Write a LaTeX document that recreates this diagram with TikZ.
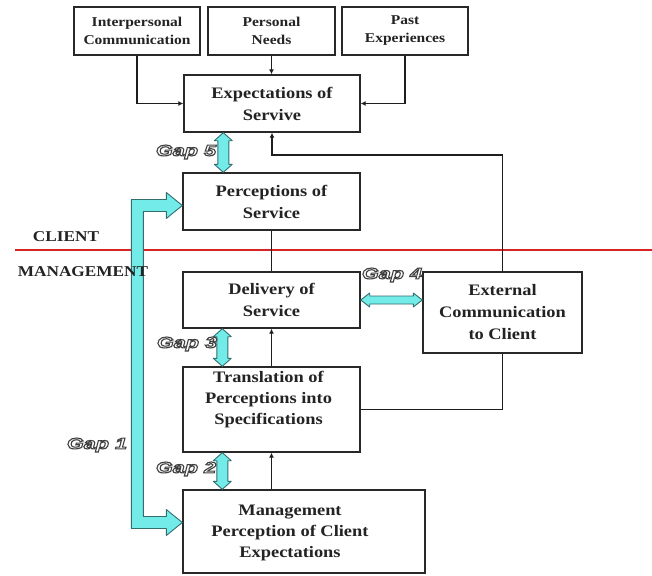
\documentclass[tikz,border=0pt]{standalone}
\usepackage{fontspec}
\setmainfont{Liberation Serif}[FakeStretch=1.15]
\newfontfamily\gapfont{Liberation Sans}[FakeStretch=1.4]
\usetikzlibrary{arrows.meta,calc}
\definecolor{boxline}{RGB}{40,40,40}
\definecolor{connline}{RGB}{30,30,30}
\definecolor{txt}{RGB}{35,35,35}
\definecolor{gapfill}{RGB}{115,235,232}
\definecolor{gapline}{RGB}{50,110,110}
\definecolor{redline}{RGB}{215,35,35}
\tikzset{
  box/.style={draw=boxline, line width=1.4pt, align=center, text=txt,
    font=\bfseries\fontsize{16}{22}\selectfont, inner sep=0pt},
  topbox/.style={box, line width=2pt, font=\bfseries\fontsize{13.5}{18}\selectfont},
  boxtext/.style={align=center, text=txt, font=\bfseries\fontsize{16}{21}\selectfont, inner sep=0pt},
  sidetext/.style={text=txt, font=\bfseries\fontsize{15}{18}\selectfont, inner sep=0pt},
  conn/.style={draw=connline, line width=1.8pt, -{Latex[length=5pt,width=5pt]}},
  plainconn/.style={draw=connline, line width=1.8pt},
  gap/.style={fill=gapfill, draw=gapline, line width=0.9pt, line join=round},
  gaplabel/.style={inner sep=0pt, font=\gapfont\bfseries\itshape\fontsize{15.5}{15.5}\selectfont},
  vgap/.style={gap, to path={-- ($(\tikztostart)+(9,8)$) -- ($(\tikztostart)+(5.5,8)$)
     -- ($(\tikztotarget)+(5.5,-8)$) -- ($(\tikztotarget)+(9,-8)$) -- (\tikztotarget)
     -- ($(\tikztotarget)+(-9,-8)$) -- ($(\tikztotarget)+(-5.5,-8)$)
     -- ($(\tikztostart)+(-5.5,8)$) -- ($(\tikztostart)+(-9,8)$) -- cycle}},
  hgap/.style={gap, to path={-- ($(\tikztostart)+(9,-7)$) -- ($(\tikztostart)+(9,-4)$)
     -- ($(\tikztotarget)+(-9,-4)$) -- ($(\tikztotarget)+(-9,-7)$) -- (\tikztotarget)
     -- ($(\tikztotarget)+(-9,7)$) -- ($(\tikztotarget)+(-9,4)$)
     -- ($(\tikztostart)+(9,4)$) -- ($(\tikztostart)+(9,7)$) -- cycle}}
}
\newcommand{\gaptext}[1]{\special{pdf:literal direct 0.25 G 1.1 w 1 Tr}#1\special{pdf:literal direct 0 Tr 0 G}}
\begin{document}
\begin{tikzpicture}[x=1pt,y=-1pt]
\useasboundingbox[fill=white] (0,0) rectangle (652,575);

% red separator
\draw[redline, line width=1.5pt] (15,250) -- (652,250);

% top boxes
\node[topbox, minimum width=126pt, minimum height=48pt] (ip) at (137,31) {Interpersonal\\Communication};
\node[topbox, minimum width=127pt, minimum height=48pt] (pn) at (271.5,31) {Personal\\Needs};
\node[topbox, minimum width=126pt, minimum height=48pt] (pe) at (405,31) {Past\\Experiences};

% main boxes
\node[box, minimum width=176pt, minimum height=57pt] (exp) at (272,103.5) {Expectations of\\Servive};
\node[box, minimum width=177pt, minimum height=57pt] (per) at (271.5,201.5) {Perceptions of\\Service};
\node[box, minimum width=177pt, minimum height=56pt] (del) at (271.5,300) {Delivery of\\Service};
\node[box, minimum width=159pt, minimum height=81pt] (ext) at (502.5,312.5) {External\\Communication\\to Client};
\node[box, minimum width=177pt, minimum height=85pt] (tra) at (271.5,409.5) {};
\node[boxtext] at ($(tra.center)+(-3,-10)$) {Translation of\\Perceptions into\\Specifications};
\node[box, minimum width=242pt, minimum height=83pt] (man) at (304,531.5) {};
\node[boxtext] at ($(man.center)+(-14,1)$) {Management\\Perception of Client\\Expectations};

% connectors
\draw[conn] (ip.south) |- (exp.west);
\draw[conn] (pe.south) |- (exp.east);
\draw[conn] (pn.south) -- (pn.south |- exp.north);
\coordinate (k) at (0,155);
\draw[conn] (ext.north) -- (ext.north |- k) -| (exp.south);
\draw[plainconn] (per.south) -- (del.north);
\draw[conn] (tra.north) -- (del.south);
\draw[conn] (tra.south |- man.north) -- (tra.south);
\draw[plainconn] (ext.south) |- (tra.east);

% gap arrows
\coordinate (g5a) at ($(exp.south west)+(40,0)$);
\coordinate (g5b) at (g5a |- per.north);
\path[vgap] (g5a) to (g5b);
\coordinate (g3a) at ($(del.south west)+(40,0)$);
\coordinate (g3b) at (g3a |- tra.north);
\path[vgap] (g3a) to (g3b);
\coordinate (g2a) at ($(tra.south west)+(40,0)$);
\coordinate (g2b) at (g2a |- man.north);
\path[vgap] (g2a) to (g2b);
\coordinate (g4a) at (del.east);
\coordinate (g4b) at (del.east -| ext.west);
\path[hgap] (g4a) to (g4b);

% gap 1 bracket arrow
\coordinate (t1) at ($(per.west)+(0,4)$);
\coordinate (t2) at ($(man.west)+(0,-9)$);
\path[gap] (t1) -- ($(t1)+(-16,-13)$) -- ($(t1)+(-16,-6)$) -- ($(t1)+(-51,-6)$)
  -- ($(t2)+(-51,6)$) -- ($(t2)+(-16,6)$) -- ($(t2)+(-16,13)$) -- (t2)
  -- ($(t2)+(-16,-13)$) -- ($(t2)+(-16,-6)$) -- ($(t2)+(-39,-6)$)
  -- ($(t1)+(-39,6)$) -- ($(t1)+(-16,6)$) -- ($(t1)+(-16,13)$) -- cycle;

% side labels
\node[sidetext] (client) at (66,237) {CLIENT};
\node[sidetext] (mgmt) at (83,272) {MANAGEMENT};

% gap labels
\node[gaplabel] (l5) at (186,152) {\gaptext{Gap 5}};
\node[gaplabel] (l4) at (392,275) {\gaptext{Gap 4}};
\node[gaplabel] (l3) at (187,344) {\gaptext{Gap 3}};
\node[gaplabel] (l2) at (186,469) {\gaptext{Gap 2}};
\node[gaplabel] (l1) at (97,445) {\gaptext{Gap 1}};
\end{tikzpicture}
\end{document}
